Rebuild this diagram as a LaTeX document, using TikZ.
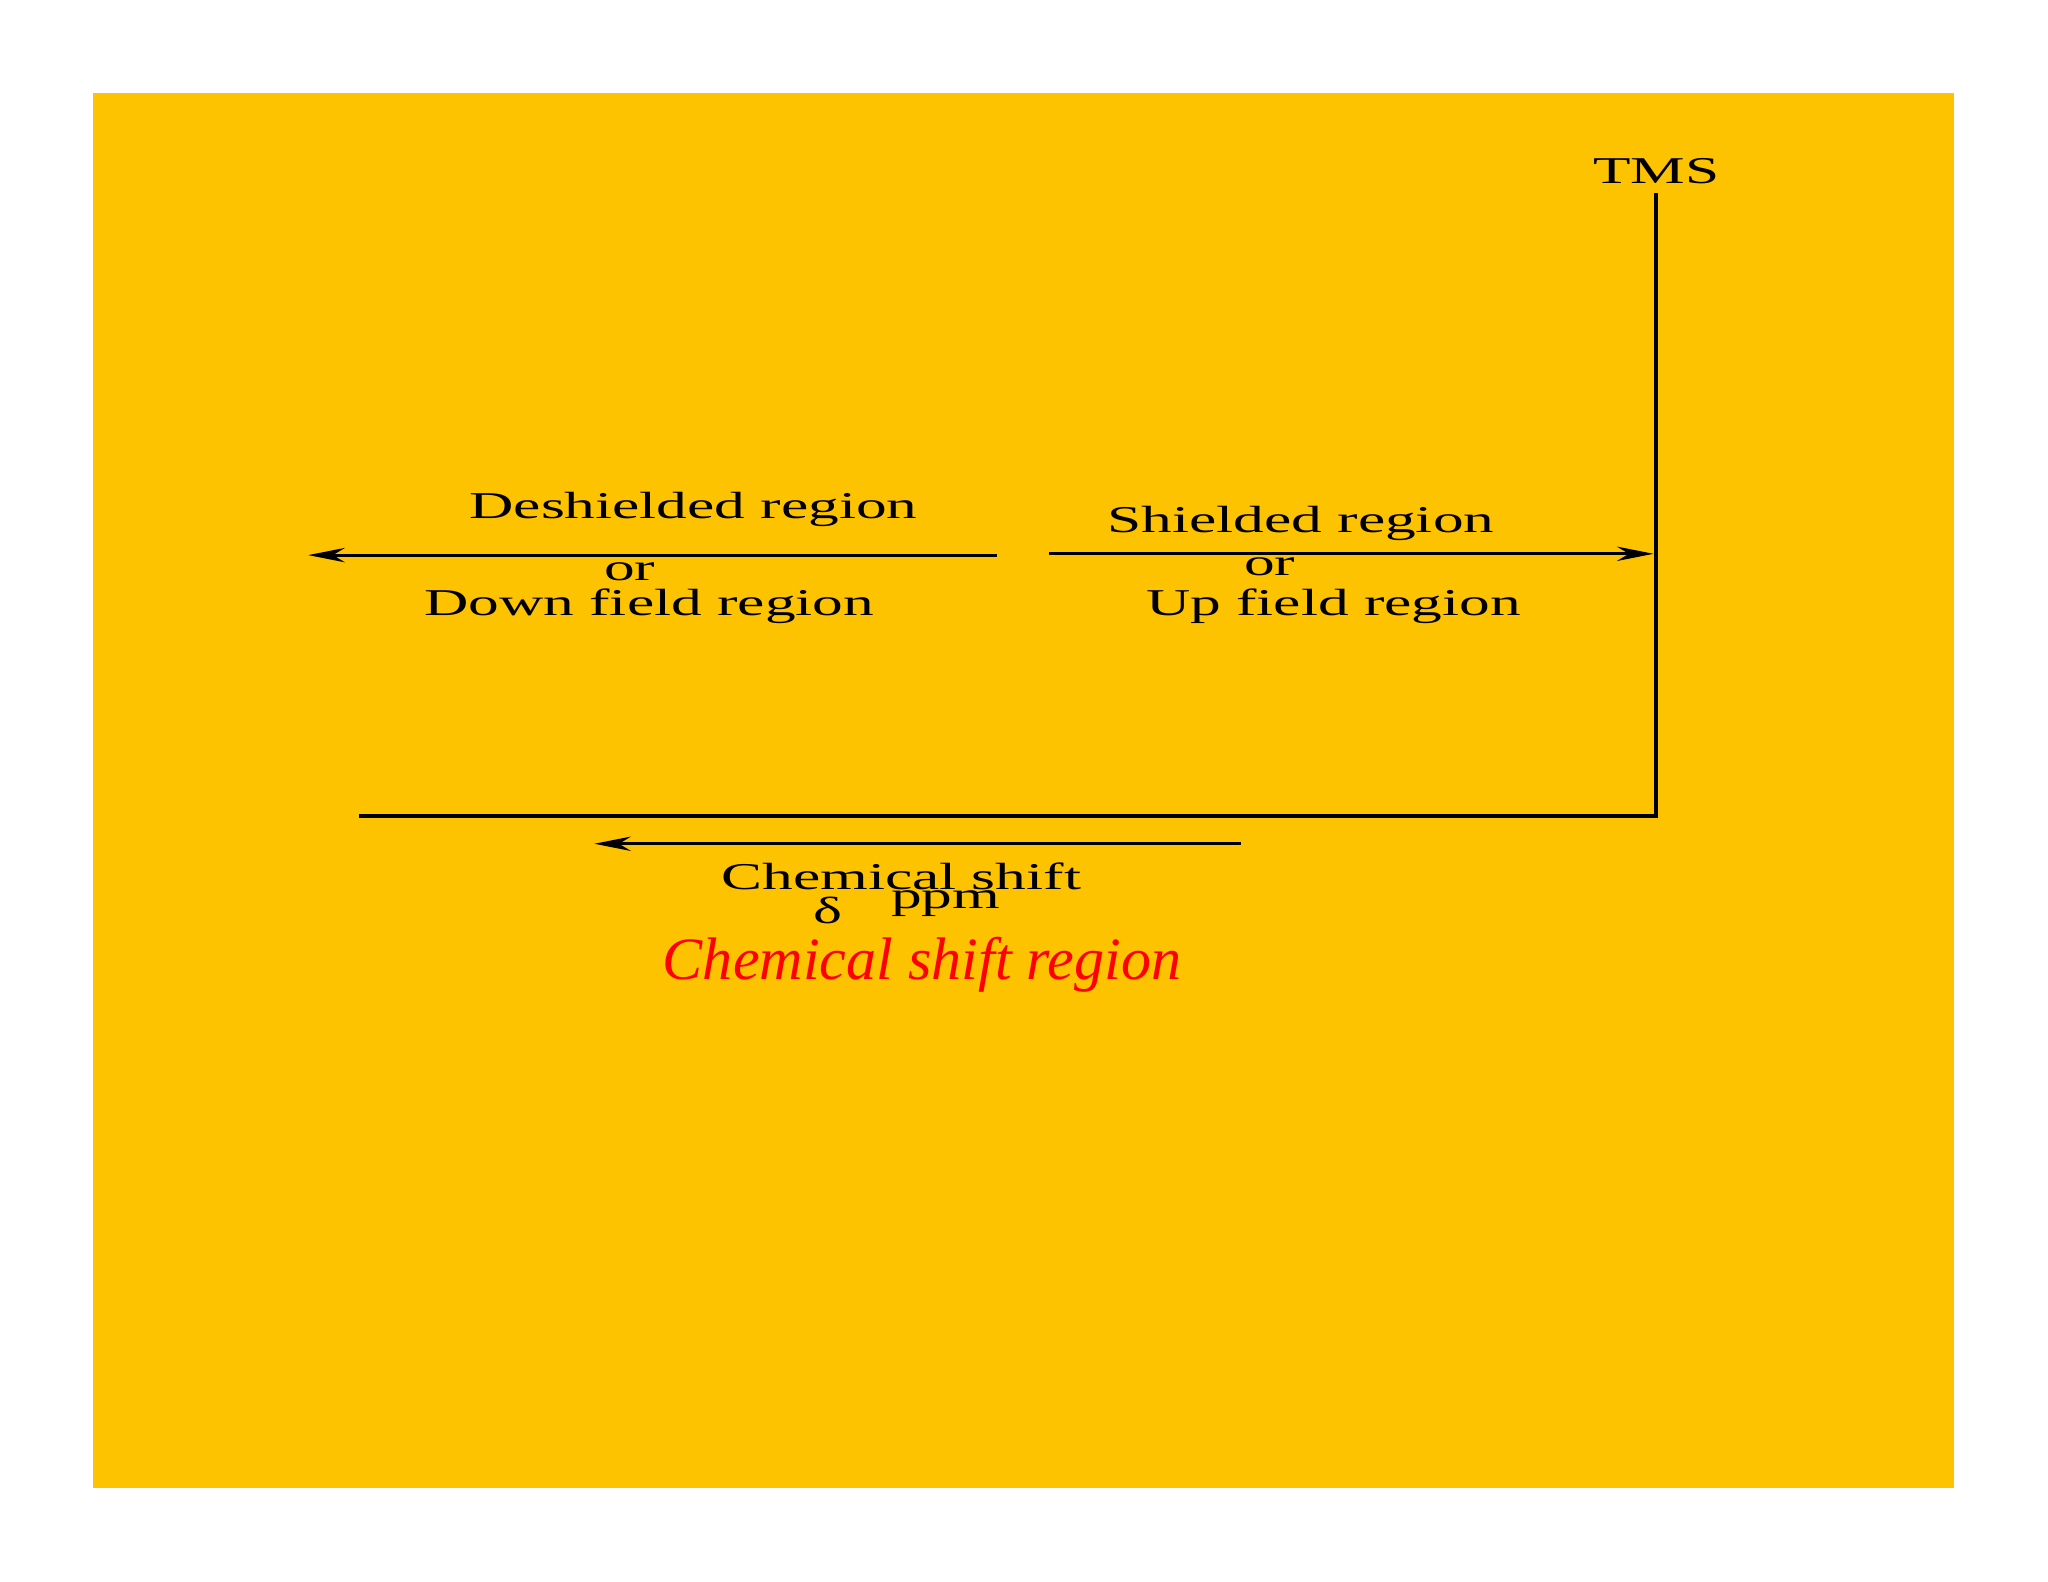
\documentclass[tikz,border=0pt]{standalone}
\usepackage{fontspec}
\setmainfont{Liberation Serif}
\usetikzlibrary{arrows.meta}
\definecolor{bg}{HTML}{FDC200}
\tikzset{
  lbl/.style={font=\fontsize{29}{31}\selectfont, inner sep=0pt},
  ln/.style={line width=3pt},
  arr/.style={line width=2.4pt,-{Stealth[length=28pt,width=11pt]}}
}
\newcommand{\wide}[1]{\scalebox{1.62}[1]{#1}}
\begin{document}
\begin{tikzpicture}[x=1pt,y=-1pt]
\useasboundingbox (0,0) rectangle (1568,1211);
\fill[bg] (71,71) rectangle (1496,1139);
\node[lbl] (tms) at (1268,131) {\wide{TMS}};
\coordinate (top) at (1268,148);
\coordinate (corner) at (1268,625);
\coordinate (left) at (275,625);
\draw[ln] (top) -- (corner) -- (left);
\coordinate (a1s) at (763,425); \coordinate (a1e) at (236,425);
\draw[arr] (a1s) -- (a1e);
\coordinate (a2s) at (803,424); \coordinate (a2e) at (1266,424);
\draw[arr] (a2s) -- (a2e);
\coordinate (a3s) at (950,646); \coordinate (a3e) at (455,646);
\draw[arr] (a3s) -- (a3e);
\node[lbl] (d1) at (531,390) {\wide{Deshielded region}};
\node[lbl] (d2) at (482,438) {\wide{or}};
\node[lbl] (d3) at (497,464) {\wide{Down field region}};
\node[lbl] (s1) at (996,401) {\wide{Shielded region}};
\node[lbl] (s2) at (972,434) {\wide{or}};
\node[lbl] (s3) at (1021,464) {\wide{Up field region}};
\node[lbl] (c1) at (690,671) {\wide{Chemical shift}};
\node[lbl] (c2) at (634,697) {\wide{δ}};
\node[lbl] (c3) at (724,692) {\wide{ppm}};
\node[inner sep=0pt, text=red, font=\fontsize{46}{48}\selectfont\itshape] (r) at (706,739) {Chemical shift region};
\end{tikzpicture}
\end{document}
